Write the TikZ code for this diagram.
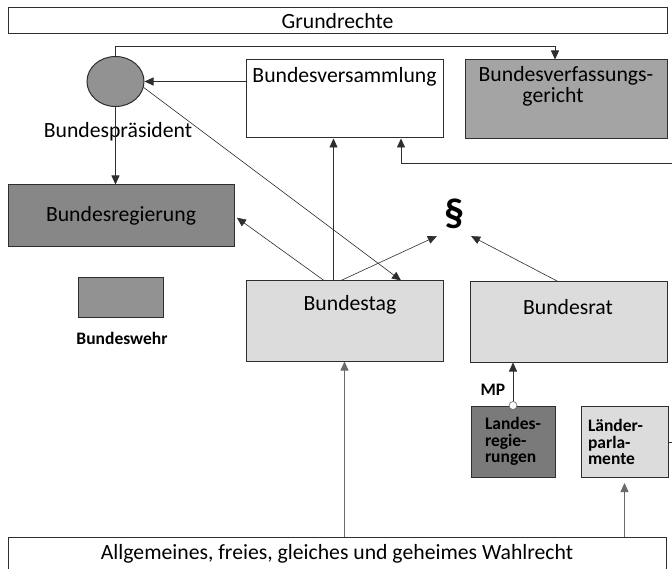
\documentclass[tikz,border=0pt]{standalone}
\usepackage{fontspec}
\setmainfont{Carlito}
\usetikzlibrary{arrows.meta,positioning,shapes.geometric}

\definecolor{lineclr}{HTML}{2E2E2E}
\definecolor{feedclr}{HTML}{6A6A6A}
\definecolor{darkfill}{HTML}{878787}
\definecolor{darkerfill}{HTML}{7A7A7A}
\definecolor{midfill}{HTML}{929292}
\definecolor{courtfill}{HTML}{A4A4A4}
\definecolor{lightfill}{HTML}{DCDCDC}

\newcommand{\mainsize}{\fontsize{21.7}{24}\selectfont}
\newcommand{\smallbold}{\fontsize{17.5}{16.5}\selectfont\bfseries}

\begin{document}
\begin{tikzpicture}[x=1pt,y=-1pt]
  % styles for the organs of the constitution
  \tikzset{
    >={Triangle[length=9pt,width=8pt]},
    organ/.style={draw=lineclr, line width=1pt, rectangle, inner sep=0pt},
    landbox/.style={organ, minimum height=71pt, align=left, inner ysep=0pt, font=\smallbold},
    plain/.style={inner sep=0pt, font=\mainsize},
    link/.style={->, draw=lineclr, line width=0.8pt},
    feed/.style={->, draw=feedclr, line width=0.8pt},
  }
  \fill[white] (0,0) rectangle (672,569);
  \useasboundingbox (0,0) rectangle (672,569);

  % top and bottom bars
  \node[organ, minimum width=659pt, minimum height=26pt, font=\mainsize] (grund) at (337.5,21) {Grundrechte};
  \node[organ, fill=white, minimum width=658pt, minimum height=34pt, font=\mainsize] (wahl) at (337,554) {Allgemeines, freies, gleiches und geheimes Wahlrecht};

  % Bundespraesident
  \node[ellipse, draw=lineclr, line width=1pt, fill=midfill, minimum width=57pt, minimum height=50pt, inner sep=0pt] (bp) at (115.5,81.5) {};
  \node[plain] (bplabel) at (118,132) {Bundespräsident};

  \node[organ, fill=white, minimum width=197pt, minimum height=78pt] (bv) at (344.5,99) {};
  \node[plain, below=8pt of bv.north] (bvtext) {Bundesversammlung};

  \node[organ, fill=courtfill, minimum width=202pt, minimum height=79pt] (bvg) at (566,99.5) {};
  \node[plain, align=center, below=7pt of bvg.north] (bvgtext) {Bundesverfassungs-\\[-3pt]gericht\hspace*{26pt}};

  \node[organ, fill=darkfill, minimum width=226pt, minimum height=62pt, font=\mainsize] (breg) at (121,216) {Bundesregierung};

  \node[organ, fill=midfill, minimum width=85pt, minimum height=40pt] (bw) at (120.5,298) {};
  \node[inner sep=0pt, font=\smallbold] (bwlabel) at (122,338) {Bundeswehr};

  \node[font=\fontsize{40}{40}\selectfont\bfseries, inner sep=7pt] (para) at (454,214) {§};

  \node[organ, fill=lightfill, minimum width=197pt, minimum height=80pt] (btag) at (344.5,321) {};
  \node[plain] (btagtext) at (350,305) {Bundestag};
  \node[organ, fill=lightfill, minimum width=197pt, minimum height=80pt] (brat) at (568.5,322) {};
  \node[plain] (brattext) at (568,307) {Bundesrat};

  % Laender
  \node[landbox, fill=darkerfill, text width=56pt, inner xsep=14pt] (lreg) at (513,441.5) {Landes-\\regie-\\rungen};
  \node[landbox, fill=lightfill, text width=73pt, inner xsep=7pt] (lpar) at (624.5,442) {Länder-\\parla-\\mente};
  \node[inner sep=0pt, font=\smallbold] (mp) at (493,390) {MP};

  \coordinate (topturn) at (555,46);
  \coordinate (rail) at (684,163);

  % connections
  \draw[link] (bp.north) |- (topturn) -- (topturn |- bvg.north);
  \draw[link] (bv.west |- bp.east) -- (bp.east);
  \draw[link] (bp.south) -- (breg.north -| bp.south);
  \draw[link, line width=0.6pt] (bp.-12) -- ([xshift=56.5pt]btag.north);
  \draw[link] ([xshift=-11pt]btag.north) -- ([xshift=-11pt]btag.north |- bv.south);
  \draw[link, line width=0.6pt, shorten >=3pt] ([xshift=-20.5pt]btag.north) -- (breg.east);
  \draw[link, line width=0.6pt] ([xshift=-3.5pt]btag.north) -- (para.south west);
  \draw[link, line width=0.6pt] ([xshift=-10.5pt]brat.north) -- (para.south east);
  \draw[link] (lpar.east) -| (rail) -| ([xshift=56.5pt]bv.south);
  \draw[link] (lreg.north) -- (lreg.north |- brat.south);
  \draw[draw=feedclr, fill=white, line width=0.6pt] (lreg.north) circle (4pt);
  \draw[feed] (btag.south |- wahl.north) -- (btag.south);
  \draw[feed, shorten >=5pt] (lpar.south |- wahl.north) -- (lpar.south);
\end{tikzpicture}
\end{document}
